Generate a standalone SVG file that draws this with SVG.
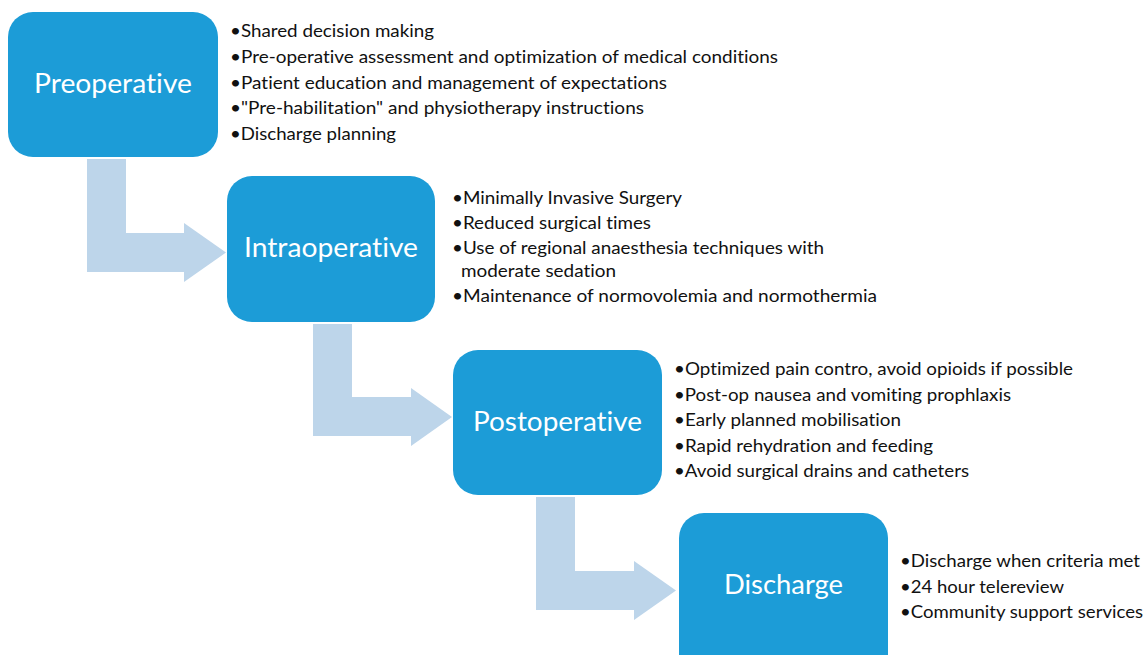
<svg xmlns="http://www.w3.org/2000/svg" width="1145" height="655" viewBox="0 0 1145 655">
  <style>
    .box { fill: #1c9cd7; }
    .arrow { fill: #bdd5ea; }
    .label { font-family: Lato, "Open Sans", sans-serif; font-size: 27px; fill: #ffffff; text-anchor: middle; font-variant-ligatures: none; }
    .item { font-family: Lato, "Open Sans", sans-serif; font-size: 17.5px; fill: #111111; font-variant-ligatures: none; }
  </style>
  <rect width="1145" height="655" fill="#ffffff"/>

  <!-- elbow arrows between phases -->
  <g id="connectors">
    <path class="arrow" d="M87,159 H126 V233 H184 V223 L226,252.5 L184,282 V272 H87 Z"/>
    <path class="arrow" d="M313,324 H352 V397 H411 V388 L452,417 L411,446 V436 H313 Z"/>
    <path class="arrow" d="M536,497 H575 V571 H634 V561 L676,590.5 L634,620 V610 H536 Z"/>
  </g>

  <g id="preoperative">
    <rect class="box" x="8" y="12" width="210" height="145" rx="25"/>
    <text class="label" x="113" y="93" textLength="158" lengthAdjust="spacingAndGlyphs">Preoperative</text>
    <text class="item" x="230" y="37" textLength="204" lengthAdjust="spacingAndGlyphs">•Shared decision making</text>
    <text class="item" x="230" y="63" textLength="548" lengthAdjust="spacingAndGlyphs">•Pre-operative assessment and optimization of medical conditions</text>
    <text class="item" x="230" y="88.5" textLength="437" lengthAdjust="spacingAndGlyphs">•Patient education and management of expectations</text>
    <text class="item" x="230" y="114" textLength="414" lengthAdjust="spacingAndGlyphs">•"Pre-habilitation" and physiotherapy instructions</text>
    <text class="item" x="230" y="140" textLength="166" lengthAdjust="spacingAndGlyphs">•Discharge planning</text>
  </g>

  <g id="intraoperative">
    <rect class="box" x="227" y="176" width="208" height="146" rx="25"/>
    <text class="label" x="331" y="257" textLength="174" lengthAdjust="spacingAndGlyphs">Intraoperative</text>
    <text class="item" x="452" y="204" textLength="230" lengthAdjust="spacingAndGlyphs">•Minimally Invasive Surgery</text>
    <text class="item" x="452" y="229" textLength="199" lengthAdjust="spacingAndGlyphs">•Reduced surgical times</text>
    <text class="item" x="452" y="254" textLength="372" lengthAdjust="spacingAndGlyphs">•Use of regional anaesthesia techniques with</text>
    <text class="item" x="461" y="277" textLength="155" lengthAdjust="spacingAndGlyphs">moderate sedation</text>
    <text class="item" x="452" y="302" textLength="425" lengthAdjust="spacingAndGlyphs">•Maintenance of normovolemia and normothermia</text>
  </g>

  <g id="postoperative">
    <rect class="box" x="453" y="350" width="209" height="145" rx="25"/>
    <text class="label" x="557.5" y="431" textLength="169" lengthAdjust="spacingAndGlyphs">Postoperative</text>
    <text class="item" x="674" y="375" textLength="399" lengthAdjust="spacingAndGlyphs">•Optimized pain contro, avoid opioids if possible</text>
    <text class="item" x="674" y="400.5" textLength="337" lengthAdjust="spacingAndGlyphs">•Post-op nausea and vomiting prophlaxis</text>
    <text class="item" x="674" y="426" textLength="227" lengthAdjust="spacingAndGlyphs">•Early planned mobilisation</text>
    <text class="item" x="674" y="451.5" textLength="259" lengthAdjust="spacingAndGlyphs">•Rapid rehydration and feeding</text>
    <text class="item" x="674" y="477" textLength="295" lengthAdjust="spacingAndGlyphs">•Avoid surgical drains and catheters</text>
  </g>

  <g id="discharge">
    <rect class="box" x="679" y="513" width="209" height="170" rx="25"/>
    <text class="label" x="783.5" y="594" textLength="119" lengthAdjust="spacingAndGlyphs">Discharge</text>
    <text class="item" x="900" y="567" textLength="240" lengthAdjust="spacingAndGlyphs">•Discharge when criteria met</text>
    <text class="item" x="900" y="593" textLength="164" lengthAdjust="spacingAndGlyphs">•24 hour telereview</text>
    <text class="item" x="900" y="618" textLength="243" lengthAdjust="spacingAndGlyphs">•Community support services</text>
  </g>
</svg>
